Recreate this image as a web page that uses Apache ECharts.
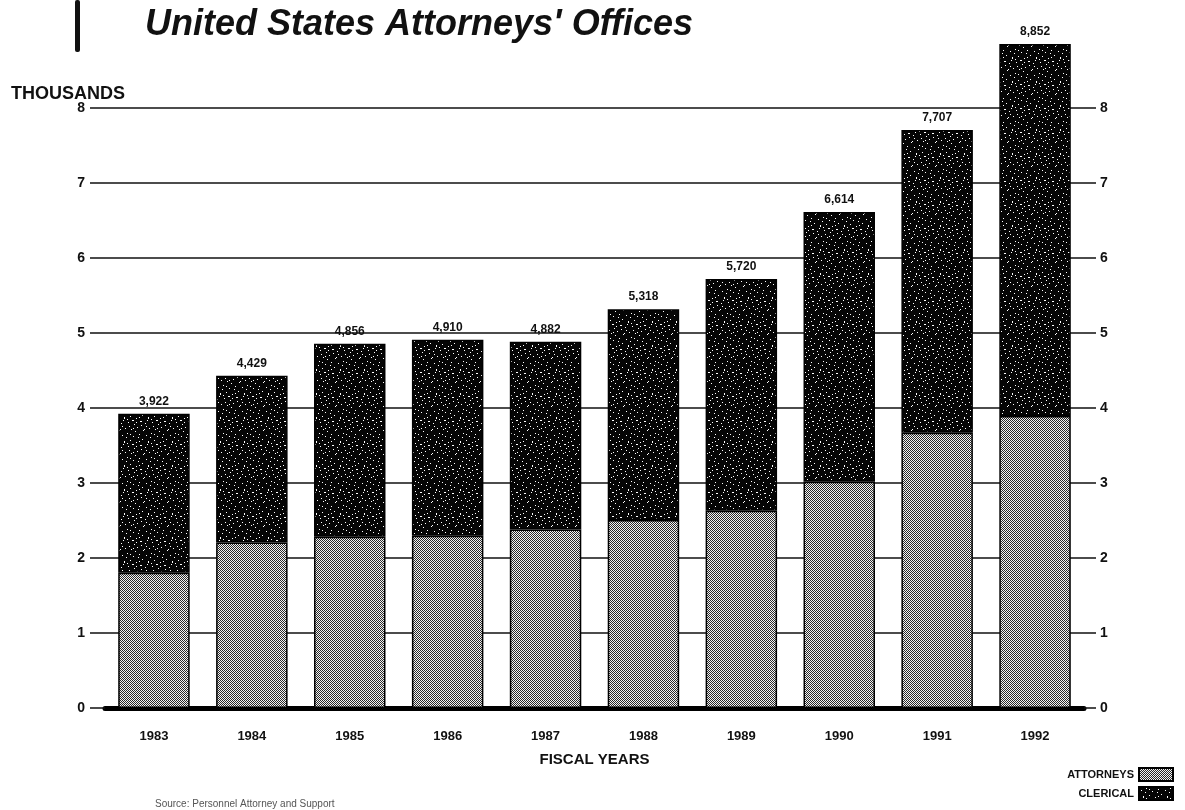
<!DOCTYPE html>
<html>
<head>
<meta charset="utf-8">
<script src="https://cdn.jsdelivr.net/npm/echarts@6/dist/echarts.min.js"></script>
<style>
html,body{margin:0;padding:0;background:#fff;}
#c{width:1185px;height:810px;}
</style>
</head>
<body>
<div id="c"></div>
<script>
// ---- data ----
const years = ['1983','1984','1985','1986','1987','1988','1989','1990','1991','1992'];
const attorneys = [1802, 2208, 2282, 2297, 2381, 2506, 2630, 3016, 3670, 3894];
const clerical  = [2120, 2221, 2574, 2613, 2501, 2812, 3090, 3598, 4037, 4958];
const totalLabels = ['3,922','4,429','4,856','4,910','4,882','5,318','5,720','6,614','7,707','8,852'];
const yTicks = [0,1,2,3,4,5,6,7,8];

// ---- fill patterns (styling only) ----
function checker(){
  const c=document.createElement('canvas'); c.width=4; c.height=4;
  const g=c.getContext('2d'); g.fillStyle='#f4f4f4'; g.fillRect(0,0,4,4);
  g.fillStyle='#2a2a2a';
  for(let y=0;y<4;y++)for(let x=0;x<4;x++){ if((x+y)%2===0) g.fillRect(x,y,1,1); }
  return c;
}
function speckle(){
  const n=24;
  const c=document.createElement('canvas'); c.width=n; c.height=n;
  const g=c.getContext('2d'); g.fillStyle='#050505'; g.fillRect(0,0,n,n);
  g.fillStyle='#ffffff';
  const pts=[[2,3],[7,1],[13,4],[19,2],[4,9],[10,8],[16,10],[22,7],[1,15],[8,14],[14,16],[20,13],
             [5,20],[11,21],[17,19],[23,22],[3,12],[18,5],[9,18],[15,23],[6,5],[12,12],[21,17],[0,21],
             [10,2],[16,14],[2,18],[19,9],[7,11],[13,20]];
  pts.forEach(p=>{g.fillRect(p[0],p[1],1,1);});
  g.fillRect(12,12,2,1); g.fillRect(4,9,1,2); g.fillRect(20,13,2,1);
  return c;
}
const attFill = {image: checker(), repeat:'repeat'};
const clerFill = {image: speckle(), repeat:'repeat'};

const chart = echarts.init(document.getElementById('c'), null, {renderer:'canvas'});
const FONT = 'Liberation Sans, Arial, sans-serif';

const option = {
  backgroundColor:'#fff',
  animation:false,
  textStyle:{fontFamily:FONT},
  title:[
    {text:"United States Attorneys' Offices", left:140, top:2,
     textStyle:{fontFamily:FONT, fontSize:36, fontWeight:'bold', fontStyle:'italic', color:'#111'}},
    {text:'THOUSANDS', left:6, top:80,
     textStyle:{fontFamily:FONT, fontSize:18, fontWeight:'bold', color:'#111'}},
    {text:'Source: Personnel Attorney and Support', left:150, top:794,
     textStyle:{fontFamily:FONT, fontSize:10, fontWeight:'normal', color:'#555'}}
  ],
  graphic:[
    {type:'rect', shape:{x:75, y:0, width:5, height:52, r:2}, style:{fill:'#111'}}
  ],
  legend:{
    orient:'vertical', right:6, bottom:4, align:'right',
    itemWidth:34, itemHeight:13, itemGap:4, icon:'rect',
    textStyle:{fontFamily:FONT, fontSize:11, fontWeight:'bold', color:'#111'},
    data:['ATTORNEYS','CLERICAL']
  },
  grid:{left:105, right:101, top:108, bottom:102, containLabel:false},
  xAxis:{
    type:'category', data:years,
    axisLine:{show:true, lineStyle:{color:'#000', width:5, cap:'round'}},
    axisTick:{show:false},
    axisLabel:{fontFamily:FONT, fontSize:13, fontWeight:'bold', color:'#111', margin:22},
    name:'FISCAL YEARS', nameLocation:'middle', nameGap:44,
    nameTextStyle:{fontFamily:FONT, fontSize:15, fontWeight:'bold', color:'#111'}
  },
  yAxis:[
    {type:'value', min:0, max:8000, interval:1000, position:'left',
     axisLine:{show:false},
     axisTick:{show:true, length:15, lineStyle:{color:'#111', width:1.5}},
     axisLabel:{fontFamily:FONT, fontSize:14, fontWeight:'bold', color:'#111', margin:20,
                formatter:v=>yTicks.includes(v/1000)?String(v/1000):''},
     splitLine:{show:true, lineStyle:{color:'#111', width:1.5}}
    },
    {type:'value', min:0, max:8000, interval:1000, position:'right',
     axisLine:{show:false},
     axisTick:{show:true, length:12, lineStyle:{color:'#111', width:1.5}},
     axisLabel:{fontFamily:FONT, fontSize:14, fontWeight:'bold', color:'#111', margin:16,
                formatter:v=>yTicks.includes(v/1000)?String(v/1000):''},
     splitLine:{show:false}
    }
  ],
  series:[
    {name:'ATTORNEYS', type:'bar', stack:'s', barWidth:'73%', clip:false,
     data:attorneys,
     itemStyle:{color:attFill, borderColor:'#000', borderWidth:1.5}},
    {name:'CLERICAL', type:'bar', stack:'s', barWidth:'73%', clip:false,
     data:clerical,
     itemStyle:{color:clerFill, borderColor:'#000', borderWidth:1.5},
     label:{show:true, position:'top', distance:6,
            formatter:p=>totalLabels[p.dataIndex],
            fontFamily:FONT, fontSize:12, fontWeight:'bold', color:'#111'}}
  ]
};
chart.setOption(option);
</script>
</body>
</html>
